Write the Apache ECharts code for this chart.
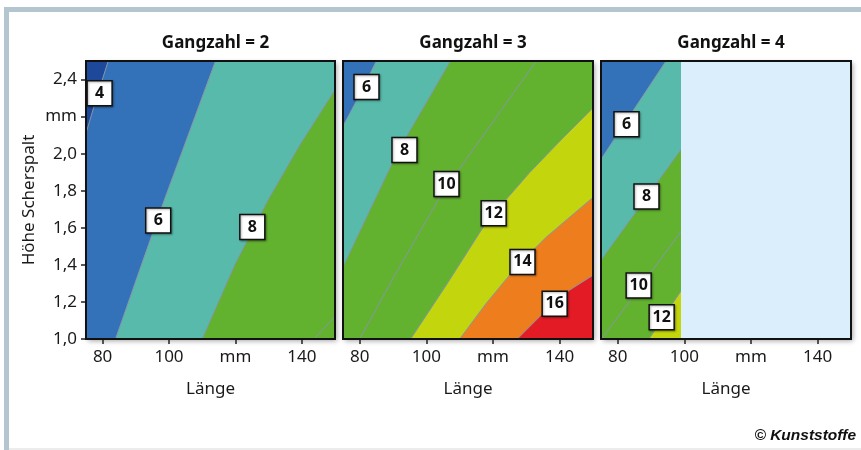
<!DOCTYPE html>
<html>
<head>
<meta charset="utf-8">
<script src="https://cdn.jsdelivr.net/npm/echarts@6/dist/echarts.min.js"></script>
<style>
  html, body { margin: 0; padding: 0; background: #fff; }
  #chart { width: 861px; height: 450px; }
</style>
</head>
<body>
<div id="chart"></div>
<script>
// ---- axes ----
const lengthRange = [75, 150];          // Länge, mm
const gapRange = [1.0, 2.5];            // Höhe Scherspalt, mm
const xTicks = [80, 100, 120, 140];
const xTickLabels = ['80', '100', 'mm', '140'];
const yTicks = [1.0, 1.2, 1.4, 1.6, 1.8, 2.0, 2.2, 2.4];
const yTickLabels = ['1,0', '1,2', '1,4', '1,6', '1,8', '2,0', 'mm', '2,4'];
const panelTitles = ['Gangzahl = 2', 'Gangzahl = 3', 'Gangzahl = 4'];

// ---- contour lines [Länge, Höhe] ----
// Gangzahl = 2
const g2Level4 = [[81.7, 2.5], [78.5, 2.32], [75, 2.11]];
const g2Level6 = [[114, 2.5], [98.5, 1.746], [91.7, 1.4], [83.9, 1.0]];
const g2Level8 = [[150, 2.345], [139.5, 2.05], [129.7, 1.746], [119.8, 1.4], [110, 1.0]];
const g2Level10 = [[150, 1.121], [143.7, 1.0]];
// Gangzahl = 3
const g3Level6 = [[85, 2.5], [80, 2.318], [75, 2.148]];
const g3Level8 = [[107.2, 2.5], [99.5, 2.26], [91.5, 2.014], [83.2, 1.70], [75, 1.39]];
const g3Level10 = [[133, 2.5], [113, 1.996], [104, 1.764], [90, 1.327], [80, 1.0]];
const g3Level12 = [[150, 2.246], [141, 2.085], [131, 1.898], [118, 1.63], [106, 1.291], [95.3, 1.0]];
const g3Level14 = [[150, 1.764], [136, 1.55], [127, 1.389], [118, 1.193], [110, 1.0]];
const g3Level16 = [[150, 1.344], [143, 1.264], [136, 1.157], [127.3, 1.0]];
// Gangzahl = 4 (evaluated only up to g4Limit)
const g4Limit = 99;
const g4Level6 = [[94.5, 2.5], [75, 1.97]];
const g4Level8 = [[99, 2.023], [75, 1.425]];
const g4Level10 = [[99, 1.58], [75.2, 1.0]];
const g4Level12 = [[99, 1.259], [89.4, 1.0]];

// ---- contour labels [Länge, Höhe, level] ----
const g2Labels = [[79.1, 2.326, 4], [96.75, 1.64, 6], [125.1, 1.604, 8]];
const g3Labels = [[82.05, 2.36, 6], [93.45, 2.02, 8], [106.05, 1.836, 10], [120.2, 1.678, 12], [128.85, 1.416, 14], [138.5, 1.19, 16]];
const g4Labels = [[82.65, 2.159, 6], [88.65, 1.769, 8], [86.3, 1.289, 10], [93.2, 1.117, 12]];

// ---- colours ----
const belowColor = { 4: '#1e4899', 6: '#3372b9' };
const aboveColor = { 4: '#3372b9', 6: '#58baab', 8: '#62b12f', 10: '#62b12f', 12: '#c3d50c', 14: '#ee7e1d', 16: '#e21b25' };
const outsideColor = '#dbeefb';
const contourLineColor = '#8796a8';

const panels = [
  { contours: [[4, g2Level4], [6, g2Level6], [8, g2Level8], [10, g2Level10]], labels: g2Labels, xMax: lengthRange[1] },
  { contours: [[6, g3Level6], [8, g3Level8], [10, g3Level10], [12, g3Level12], [14, g3Level14], [16, g3Level16]], labels: g3Labels, xMax: lengthRange[1] },
  { contours: [[6, g4Level6], [8, g4Level8], [10, g4Level10], [12, g4Level12]], labels: g4Labels, xMax: g4Limit }
];

// ---- layout ----
const gridLefts = [86, 343, 601];
const gridWidths = [249, 250, 250];
const gridTop = 61, gridHeight = 278;
const font = 'Noto Sans';

// position of a boundary point along the domain perimeter (clockwise from top-left)
function perim(p, d) {
  const eps = 1e-6, [x, y] = p;
  if (Math.abs(y - d.yMax) < eps) return (x - d.xMin) / (d.xMax - d.xMin);
  if (Math.abs(x - d.xMax) < eps) return 1 + (d.yMax - y) / (d.yMax - d.yMin);
  if (Math.abs(y - d.yMin) < eps) return 2 + (d.xMax - x) / (d.xMax - d.xMin);
  return 3 + (y - d.yMin) / (d.yMax - d.yMin);
}

// region above a contour level: contour + domain edge through the lower-right corner
function highSide(pts, d) {
  const corners = [[d.xMin, d.yMax], [d.xMax, d.yMax], [d.xMax, d.yMin], [d.xMin, d.yMin]];
  const e = perim(pts[pts.length - 1], d), s = perim(pts[0], d);
  const cw = (s - e + 4) % 4;
  const viaCw = ((2 - e + 4) % 4) < cw;
  const picks = [];
  for (let c = 0; c < 4; c++) {
    const dist = viaCw ? (c - e + 4) % 4 : (e - c + 4) % 4;
    const lim = viaCw ? cw : (e - s + 4) % 4;
    if (dist > 0 && dist < lim) picks.push([dist, corners[c]]);
  }
  picks.sort((a, b) => a[0] - b[0]);
  return pts.concat(picks.map(p => p[1]));
}

const grids = [], xAxes = [], yAxes = [], series = [], titles = [];

panels.forEach((panel, i) => {
  const dom = { xMin: lengthRange[0], xMax: panel.xMax, yMin: gapRange[0], yMax: gapRange[1] };
  grids.push({
    left: gridLefts[i], top: gridTop, width: gridWidths[i], height: gridHeight,
    show: true, backgroundColor: '#fff', borderWidth: 0,
    shadowColor: 'rgba(0,0,0,0.35)', shadowBlur: 5, shadowOffsetX: 2, shadowOffsetY: 2
  });
  titles.push({
    text: panelTitles[i], left: gridLefts[i] + gridWidths[i] / 2, top: 30, textAlign: 'center',
    textStyle: { fontFamily: font, fontSize: 17, fontWeight: 'bold', color: '#111' }
  });
  xAxes.push({
    gridIndex: i, type: 'value', min: lengthRange[0], max: lengthRange[1],
    axisLine: { show: false }, splitLine: { show: false },
    axisTick: { show: true, customValues: xTicks, length: 5, lineStyle: { color: '#222', width: 1.5 } },
    axisLabel: {
      customValues: xTicks, margin: 10, fontFamily: font, fontSize: 17, color: '#1a1a1a',
      formatter: v => xTickLabels[xTicks.indexOf(v)]
    },
    name: 'Länge', nameLocation: 'middle', nameGap: 42,
    nameTextStyle: { fontFamily: font, fontSize: 17, color: '#1a1a1a' }
  });
  const first = i === 0;
  yAxes.push({
    gridIndex: i, type: 'value', min: gapRange[0], max: gapRange[1],
    axisLine: { show: false }, splitLine: { show: false },
    axisTick: { show: first, customValues: yTicks, length: 5, lineStyle: { color: '#222', width: 1.5 } },
    axisLabel: {
      show: first, customValues: yTicks, margin: 9, fontFamily: font, fontSize: 17, color: '#1a1a1a',
      formatter: v => yTickLabels[yTicks.findIndex(t => Math.abs(t - v) < 1e-9)]
    },
    name: first ? 'Höhe Scherspalt' : '', nameLocation: 'middle', nameGap: 48,
    nameTextStyle: { fontFamily: font, fontSize: 17, color: '#1a1a1a' }
  });

  // filled bands: base colour, then each level's upper region, then the not-evaluated area
  const items = [['base']].concat(panel.contours.map((c, k) => ['level', k]));
  if (panel.xMax < lengthRange[1]) items.push(['outside']);
  series.push({
    type: 'custom', xAxisIndex: i, yAxisIndex: i, clip: true, z: 2, silent: true,
    data: items.map((it, k) => [k]),
    renderItem: (params, api) => {
      const it = items[params.dataIndex];
      if (it[0] === 'base') {
        const pts = [[dom.xMin, dom.yMax], [dom.xMax, dom.yMax], [dom.xMax, dom.yMin], [dom.xMin, dom.yMin]];
        return { type: 'polygon', shape: { points: pts.map(p => api.coord(p)) },
                 style: { fill: belowColor[panel.contours[0][0]] } };
      }
      if (it[0] === 'outside') {
        const pts = [[panel.xMax, gapRange[1]], [lengthRange[1], gapRange[1]], [lengthRange[1], gapRange[0]], [panel.xMax, gapRange[0]]];
        return { type: 'polygon', shape: { points: pts.map(p => api.coord(p)) }, style: { fill: outsideColor } };
      }
      const [level, line] = panel.contours[it[1]];
      const poly = highSide(line, dom);
      return {
        type: 'group',
        children: [
          { type: 'polygon', shape: { points: poly.map(p => api.coord(p)) }, style: { fill: aboveColor[level] } },
          { type: 'polyline', shape: { points: line.map(p => api.coord(p)) },
            style: { stroke: contourLineColor, lineWidth: 1, fill: null } }
        ]
      };
    }
  });

  // plot frame
  series.push({
    type: 'custom', xAxisIndex: i, yAxisIndex: i, clip: false, z: 10, silent: true,
    data: [[lengthRange[0], gapRange[0]]],
    renderItem: (params) => {
      const cs = params.coordSys;
      return { type: 'rect', shape: { x: cs.x, y: cs.y, width: cs.width, height: cs.height },
               style: { fill: null, stroke: '#111', lineWidth: 2 } };
    }
  });

  // level labels
  series.push({
    type: 'scatter', xAxisIndex: i, yAxisIndex: i, z: 20, silent: true,
    symbol: 'rect', symbolSize: 25,
    itemStyle: { color: '#fff', borderColor: '#111', borderWidth: 1.5, opacity: 1,
                 shadowColor: 'rgba(0,0,0,0.3)', shadowBlur: 2, shadowOffsetX: 1, shadowOffsetY: 1 },
    label: { show: true, position: 'inside', formatter: p => String(p.value[2]),
             fontFamily: font, fontSize: 16, fontWeight: 'bold', color: '#111' },
    data: panel.labels.map(l => [l[0], l[1], l[2]])
  });
});

const chart = echarts.init(document.getElementById('chart'), null, { renderer: 'canvas' });
chart.setOption({
  animation: false,
  backgroundColor: '#fff',
  title: titles,
  grid: grids,
  xAxis: xAxes,
  yAxis: yAxes,
  series: series,
  graphic: [
    { type: 'rect', shape: { x: 4, y: 7, width: 857, height: 5 }, style: { fill: '#b3c6d0' }, silent: true },
    { type: 'rect', shape: { x: 4, y: 7, width: 5, height: 443 }, style: { fill: '#b3c6d0' }, silent: true },
    { type: 'rect', shape: { x: 9, y: 448, width: 852, height: 2 }, style: { fill: '#ececec' }, silent: true },
    { type: 'text', right: 5, top: 428, silent: true,
      style: { text: '© Kunststoffe', fontFamily: 'Liberation Sans', fontSize: 15.5, fontWeight: 'bold',
               fontStyle: 'italic', fill: '#111' } }
  ]
});
</script>
</body>
</html>
